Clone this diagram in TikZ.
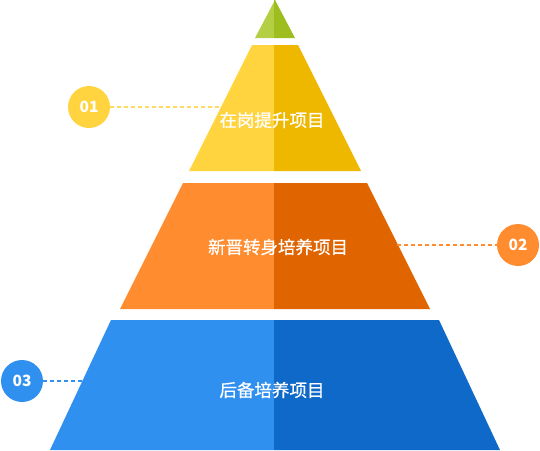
\documentclass[tikz,border=0pt]{standalone}
\usepackage{fontspec}
\newfontfamily\cjk{Noto Sans CJK SC}
\newfontfamily\cjkm[FakeBold=0.6]{Noto Sans CJK SC}
\usetikzlibrary{positioning}
\definecolor{grL}{HTML}{B5CF45}
\definecolor{grR}{HTML}{9DBE1E}
\definecolor{yeL}{HTML}{FFD43F}
\definecolor{yeR}{HTML}{EFB800}
\definecolor{orL}{HTML}{FF8C2E}
\definecolor{orR}{HTML}{E06500}
\definecolor{blL}{HTML}{3090F0}
\definecolor{blR}{HTML}{0E69C8}
\tikzset{
  label/.style={text=white,font=\cjkm\fontsize{17.5}{17.5}\selectfont},
  num/.style={circle,fill=#1,minimum size=42pt,inner sep=0pt,text=white,
    font=\cjk\bfseries\fontsize{15.5}{15.5}\selectfont},
  link/.style={draw=#1,line width=1.3pt,dash pattern=on 4pt off 3pt}
}
\begin{document}
\begin{tikzpicture}[x=1pt,y=-1pt]
\useasboundingbox (0,0) rectangle (540,450);
% dinh kim tu thap
\fill[grL] (275,0)--(255,38)--(274,38)--(274,0)--cycle;
\fill[grR] (275,0)--(274,0)--(274,38)--(295,38)--cycle;
% cac tang: y tren / nua rong tren / y duoi / nua rong duoi / mau trai / mau phai
\foreach \yt/\ht/\yb/\hb/\cl/\cr in {45/23/171/86/yeL/yeR,183/92/309/155/orL/orR,320/164/450/225/blL/blR}
{
\fill[\cl] (275-\ht,\yt)--(274,\yt)--(274,\yb)--(275-\hb,\yb)--cycle;
\fill[\cr] (274,\yt)--(275+\ht,\yt)--(275+\hb,\yb)--(274,\yb)--cycle;
}
% chu tren cac tang
\node[label] (t1) at (272,120) {在岗提升项目};
\node[label] (t2) at (278,247) {新晋转身培养项目};
\node[label] (t3) at (272,390) {后备培养项目};
% cac vong so va duong net dut
\node[num=yeL] (n1) at (89,107) {01};
\node[num=orL] (n2) at (518,245) {02};
\node[num=blL] (n3) at (22,381) {03};
\coordinate (e1) at (221,107);
\coordinate (e2) at (397,245);
\coordinate (e3) at (82,381);
\draw[link=yeL!85!white] (n1) -- (e1);
\draw[link=orL] (e2) -- (n2);
\draw[link=blL] (n3) -- (e3);
\end{tikzpicture}
\end{document}
